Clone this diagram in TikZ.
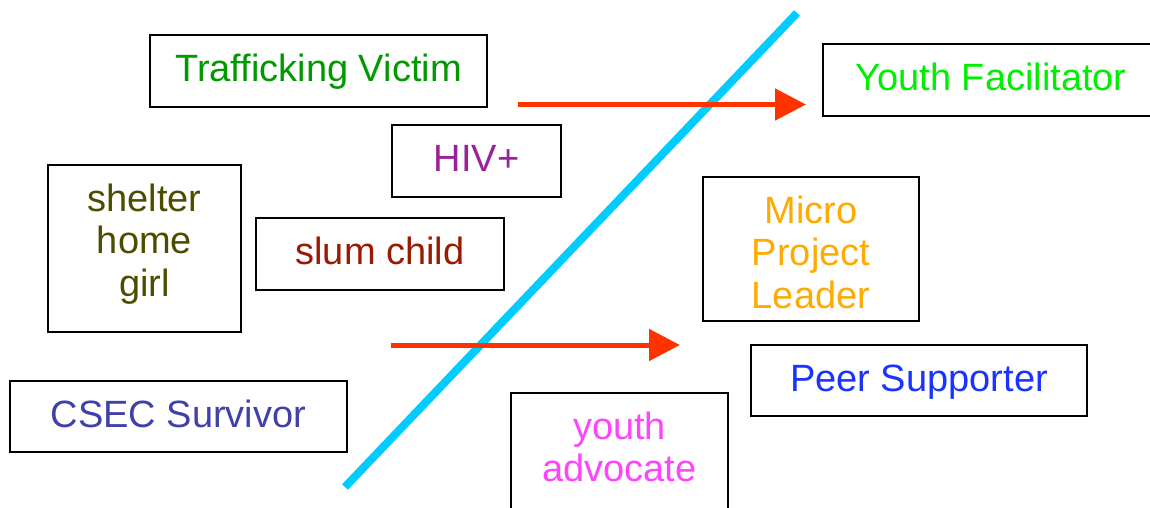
\documentclass[tikz,border=0pt]{standalone}
\usepackage{fontspec}
\setmainfont{Liberation Sans}
\usetikzlibrary{arrows.meta}
\definecolor{cTraf}{RGB}{0,153,0}
\definecolor{cYF}{RGB}{0,238,0}
\definecolor{cHIV}{RGB}{153,34,153}
\definecolor{cShel}{RGB}{77,77,0}
\definecolor{cSlum}{RGB}{153,26,0}
\definecolor{cMicro}{RGB}{255,170,0}
\definecolor{cPeer}{RGB}{26,51,255}
\definecolor{cCSEC}{RGB}{64,64,170}
\definecolor{cAdv}{RGB}{255,68,255}
\definecolor{cLine}{RGB}{0,204,255}
\definecolor{cArrow}{RGB}{255,51,0}
\begin{document}
\begin{tikzpicture}[x=1pt,y=-1pt,
  boxbase/.style={draw=black, line width=2pt, fill=white, inner sep=0pt, align=center,
    font=\fontsize{38}{42.5}\selectfont},
  onebox/.style={boxbase, text height=29pt, text depth=8pt},
  emptybox/.style={draw=black, line width=2pt, fill=white, inner sep=0pt},
  redarrow/.style={draw=cArrow, line width=5pt, -{Triangle[length=31pt,width=31pt]}},
  divider/.style={draw=cLine, line width=8pt, line cap=butt},
  lbl/.style={inner sep=0pt, align=center, anchor=north, font=\fontsize{38}{42.5}\selectfont}
]
\useasboundingbox (0,0) rectangle (1150,508);
\clip (0,0) rectangle (1150,508);

\node[onebox, minimum width=337pt, minimum height=72pt, text=cTraf] (traf) at (318.5,71) {Trafficking Victim};
\node[onebox, minimum width=336pt, minimum height=72pt, text=cYF] (yf) at (991,80) {Youth Facilitator};
\node[onebox, minimum width=169pt, minimum height=72pt, text=cHIV] (hiv) at (476.5,161) {HIV+};
\node[emptybox, minimum width=193pt, minimum height=167pt] (shel) at (144.5,248.5) {};
\node[lbl, text=cShel] (sheltxt) at (144.5,183.3) {shelter\\home\\girl};
\node[onebox, minimum width=248pt, minimum height=72pt, text=cSlum] (slum) at (380,254) {slum child};
\node[emptybox, minimum width=216pt, minimum height=144pt] (micro) at (811,249) {};
\node[lbl, text=cMicro] (microtxt) at (811,195.5) {Micro\\Project\\Leader};
\node[onebox, minimum width=336pt, minimum height=71pt, text=cPeer] (peer) at (919,380.5) {Peer Supporter};
\node[onebox, minimum width=337pt, minimum height=71pt, text=cCSEC] (csec) at (178.5,416.5) {CSEC Survivor};
\node[emptybox, minimum width=217pt, minimum height=152pt] (advbox) at (619.5,469) {};
\node[lbl, text=cAdv] (adv) at (619.5,411.5) {youth\\advocate};

\coordinate (lineA) at (345,487);
\coordinate (lineB) at (797,13);
\draw[divider] (lineA) -- (lineB);

\coordinate (a1s) at (518,104.5);
\coordinate (a1e) at (806,104.5);
\coordinate (a2s) at (391,345);
\coordinate (a2e) at (680,345);
\draw[redarrow] (a1s) -- (a1e);
\draw[redarrow] (a2s) -- (a2e);
\end{tikzpicture}
\end{document}
